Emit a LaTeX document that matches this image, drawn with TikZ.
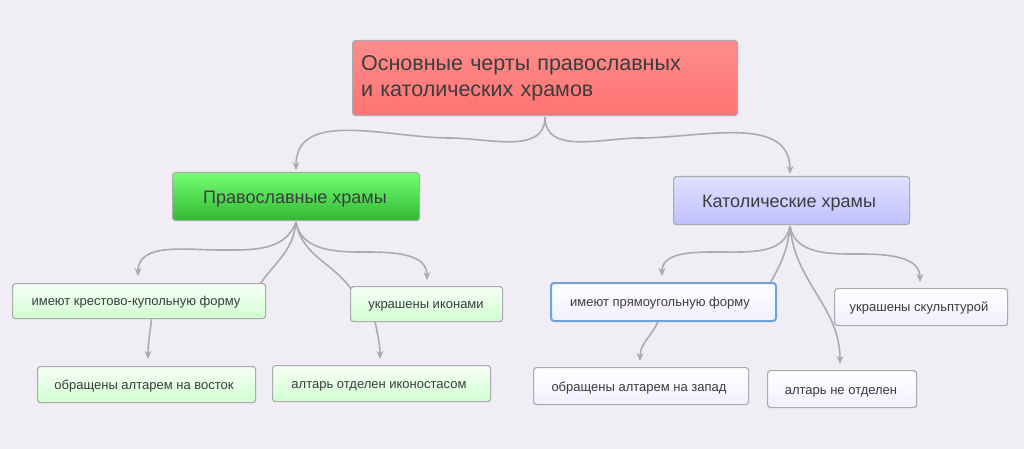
\documentclass[tikz,border=0pt]{standalone}
\usepackage{fontspec}
\setmainfont{Liberation Sans}
\usetikzlibrary{arrows.meta,calc}
\definecolor{bg}{RGB}{240,238,244}
\definecolor{txt}{RGB}{60,60,60}
\definecolor{ln}{RGB}{170,170,175}
\tikzset{
 x=1pt,y=-1pt,
 box/.style={draw=ln,line width=1.2pt,rounded corners=3pt,inner sep=0pt,anchor=north west,text=txt,align=left},
 leafg/.style={box,top color=white!70!green!12,bottom color=green!18!white,font=\fontsize{13}{15}\selectfont},
 leafc/.style={box,top color=white,bottom color=blue!6!white,font=\fontsize{13}{15}\selectfont},
 conn/.style={draw=ln,line width=1.6pt,-{Stealth[length=8pt,width=7pt]}},
 lbl/.style={text=txt,font=\fontsize{13}{15}\selectfont,anchor=base},
 big/.style={text=txt,font=\fontsize{18}{22}\selectfont,anchor=base},
}
\begin{document}
\begin{tikzpicture}
\fill[bg] (0,0) rectangle (1024,449);
\useasboundingbox (0,0) rectangle (1024,449);
\coordinate (r0) at (545,117);
\coordinate (o0) at (296,222);
\coordinate (c0) at (790,226);
% connectors (drawn first, pass behind boxes)
\draw[conn] (r0) to[out=-90,in=0] (450,138) to[out=180,in=90] (296,170);
\draw[conn] (r0) to[out=-90,in=180] (640,138) to[out=0,in=90] (790,174);
\draw[conn] (o0) to[out=-110,in=0] (220,250) to[out=180,in=90] (138,276);
\draw[conn] (o0) to[out=-80,in=180] (360,252) to[out=0,in=90] (427,280);
\draw[conn] (o0) to[out=-95,in=60] (255,292) -- (152,314) to[out=-95,in=90] (148,359);
\draw[conn] (o0) to[out=-80,in=120] (355,295) -- (374,316) to[out=-80,in=90] (380,359);
\draw[conn] (c0) to[out=-100,in=0] (720,252) to[out=180,in=90] (662,276);
\draw[conn] (c0) to[out=-80,in=180] (860,254) to[out=0,in=90] (920,282);
\draw[conn] (c0) to[out=-85,in=90] (840,364);
\draw[conn] (c0) to[out=-95,in=60] (765,292) -- (660,314) to[out=-100,in=90] (640,361);
% nodes
\node[box,top color=red!45!white,bottom color=red!55!white,minimum width=385pt,minimum height=75pt,font=\fontsize{21.5}{26}\selectfont,text width=380pt] (root) at (352,40) {\hspace*{6pt}Основные черты православных\\\hspace*{6pt}и католических храмов};
\node[box,top color=green!55!white,bottom color=green!65!black!80!white,minimum width=247pt,minimum height=48pt] (orth) at (172,172) {};
\node[big] at (295,203) {Православные храмы};
\node[box,top color=blue!12!white,bottom color=blue!25!white,minimum width=236pt,minimum height=48pt] (cath) at (673,176) {};
\node[big] at (789,207) {Католические храмы};
\node[leafg,minimum width=253pt,minimum height=35pt] (a1) at (12,283) {};
\node[lbl] at (136,305) {имеют крестово-купольную форму};
\node[leafg,minimum width=152pt,minimum height=35pt] (a2) at (350,286) {};
\node[lbl] at (426,308) {украшены иконами};
\node[leafg,minimum width=218pt,minimum height=36pt] (a3) at (37,366) {};
\node[lbl] at (144,389) {обращены алтарем на восток};
\node[leafg,minimum width=218pt,minimum height=36pt] (a4) at (272,365) {};
\node[lbl] at (379,388) {алтарь отделен иконостасом};
\node[leafc,draw=cyan!60!blue!60!white,line width=2pt,minimum width=225pt,minimum height=38pt] (b1) at (550,282) {};
\node[lbl] at (660,306) {имеют прямоугольную форму};
\node[leafc,minimum width=173pt,minimum height=37pt] (b2) at (834,288) {};
\node[lbl] at (919,311) {украшены скульптурой};
\node[leafc,minimum width=215pt,minimum height=37pt] (b3) at (533,367) {};
\node[lbl] at (639,391) {обращены алтарем на запад};
\node[leafc,minimum width=149pt,minimum height=37pt] (b4) at (767,370) {};
\node[lbl] at (841,394) {алтарь не отделен};
\end{tikzpicture}
\end{document}
